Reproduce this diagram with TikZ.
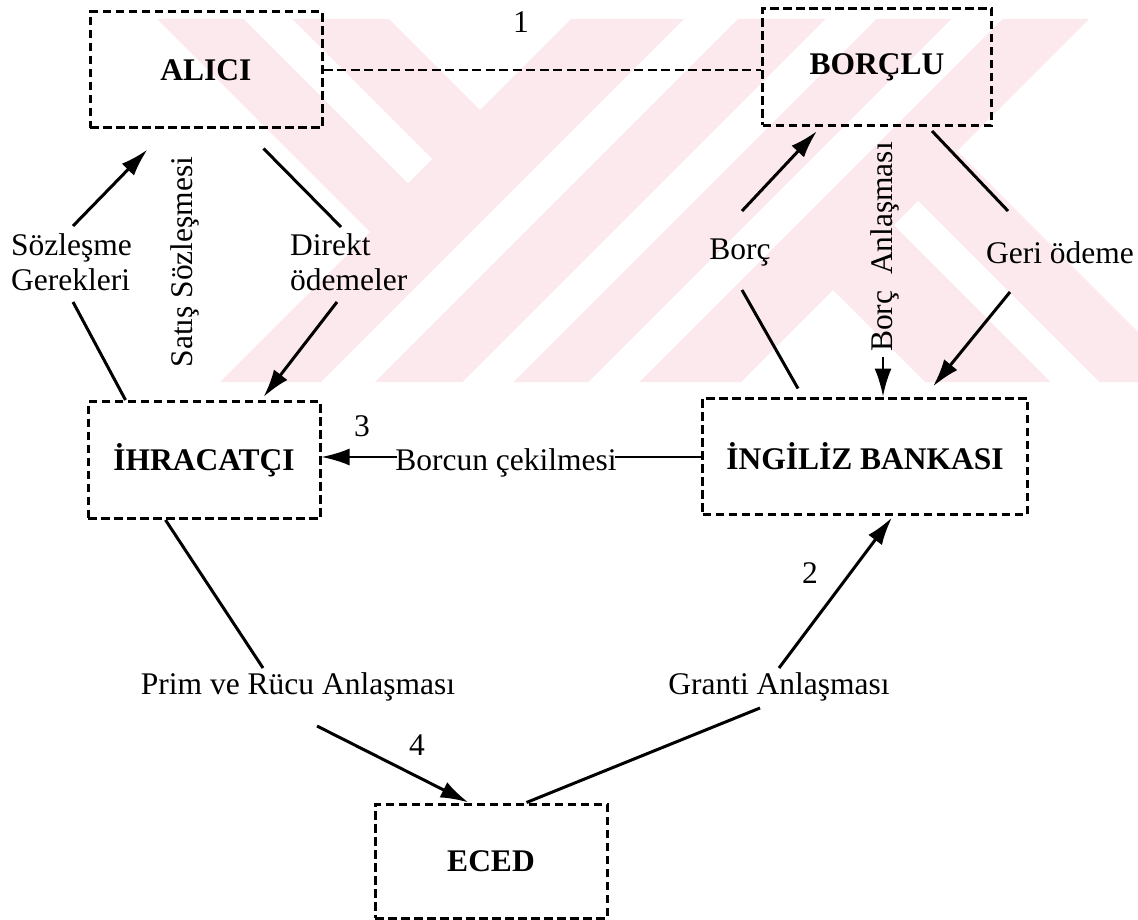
\documentclass[tikz,border=0pt]{standalone}
\usepackage{fontspec}
\setmainfont{Liberation Serif}
\usetikzlibrary{arrows.meta,calc}
\definecolor{wm}{RGB}{252,233,237}
\begin{document}
\begin{tikzpicture}[x=1pt,y=-1pt,
  font=\fontsize{31.5}{35}\selectfont,
  box/.style={draw, dash pattern=on 8.5pt off 4.5pt, line width=3pt, font=\fontsize{31.5}{35}\selectfont\bfseries},
  dline/.style={draw, dash pattern=on 9pt off 4.5pt, line width=2.8pt},
  lbl/.style={inner sep=0pt},
  conn/.style={line width=3pt},
  arr/.style={line width=3pt, -{Latex[length=28pt,width=17pt]}}]
\useasboundingbox (0,0) rectangle (1138,920);
% watermark
\begin{scope}
\clip (157,19) -- (389,19) -- (480,110) -- (571,19) -- (1089,19) -- (957,151) -- (1138,332) -- (1138,382) -- (925,382) -- (833,290) -- (741,382) -- (220,382) -- (370,232) -- cycle;
\fill[wm] (0,0) rectangle (1138,400);
\draw[white, line width=34pt] (251,2) -- (420,171);
\draw[white, line width=38pt] (330,400) -- (730,0);
\draw[white, line width=36pt] (470,400) -- (870,0);
\draw[white, line width=36pt] (596,400) -- (996,0);
\draw[white, line width=34pt] (906,213) -- (1093,400);
\end{scope}
% boxes
\node[box, minimum width=232pt, minimum height=116pt] (alici) at (206,70) {ALICI};
\node[box, minimum width=229pt, minimum height=117pt] (borclu) at (877,67) {BORÇLU};
\node[box, minimum width=232pt, minimum height=117pt] (ihr) at (204,460) {İHRACATÇI};
\node[box, minimum width=325pt, minimum height=116pt] (ing) at (865,456) {İNGİLİZ BANKASI};
\node[box, minimum width=232pt, minimum height=114pt] (eced) at (491,861) {ECED};
% labels
\node[lbl] (n1) at (521,22) {1};
\node[lbl, anchor=west, align=left] (soz) at (11,262) {Sözleşme\\Gerekleri};
\node[lbl, rotate=90] (satis) at (185,262) {Satış Sözleşmesi};
\node[lbl, anchor=west, align=left] (direkt) at (290,262) {Direkt\\ödemeler};
\node[lbl] (borc) at (740,253) {Borç};
\node[lbl, rotate=90] (banl) at (885,247) {Borç\ \ Anlaşması};
\node[lbl] (geri) at (1060,253) {Geri ödeme};
\node[lbl] (cek) at (506,463) {Borcun çekilmesi};
\node[lbl] (n3) at (362,426) {3};
\node[lbl] (prim) at (298,687) {Prim ve Rücu Anlaşması};
\node[lbl] (n4) at (417,745) {4};
\node[lbl] (granti) at (779,687) {Granti Anlaşması};
\node[lbl] (n2) at (810,573) {2};
% free ends
\coordinate (s1) at (73,302);
\coordinate (s2) at (73,226);
\coordinate (d1) at (341,227);
\coordinate (d2) at (337,302);
\coordinate (b1) at (742,290);
\coordinate (b2) at (742,211);
\coordinate (g1) at (1008,211);
\coordinate (g2) at (1010,292);
\coordinate (ba) at (883,357);
\coordinate (cl) at (0,457);
\coordinate (p1) at (263,668);
\coordinate (p2) at (317,726);
\coordinate (gr1) at (760,708);
\coordinate (gr2) at (779,668);
% connectors
\draw[dline] (alici.east) -- (borclu.west |- alici.east);
\draw[conn] ($(ihr.north west)+(39,0)$) -- (s1);
\draw[arr] (s2) -- ($(alici.south west)+(59,20)$);
\draw[conn] ($(alici.south west)+(175,19)$) -- (d1);
\draw[arr] (d2) -- ($(ihr.north west)+(177,-3)$);
\draw[conn] ($(ing.north west)+(97,-8)$) -- (b1);
\draw[arr] (b2) -- ($(borclu.south west)+(56,4)$);
\draw[conn] ($(borclu.south west)+(171,4)$) -- (g1);
\draw[arr] (g2) -- ($(ing.north west)+(232,-10)$);
\draw[arr, line width=2.4pt] (ba) -- (ba |- ing.north);
\draw[conn, line width=2.4pt] (ing.west |- cl) -- ($(cek.east |- cl)+(-2,0)$);
\draw[arr, line width=2.4pt] ($(cek.west |- cl)+(2,0)$) -- (ihr.east |- cl);
\draw[conn] ($(ihr.south west)+(79,0)$) -- (p1);
\draw[arr] (p2) -- ($(eced.north west)+(95,0)$);
\draw[conn] ($(eced.north west)+(153,0)$) -- (gr1);
\draw[arr] (gr2) -- ($(ing.south west)+(191,2)$);
\end{tikzpicture}
\end{document}
